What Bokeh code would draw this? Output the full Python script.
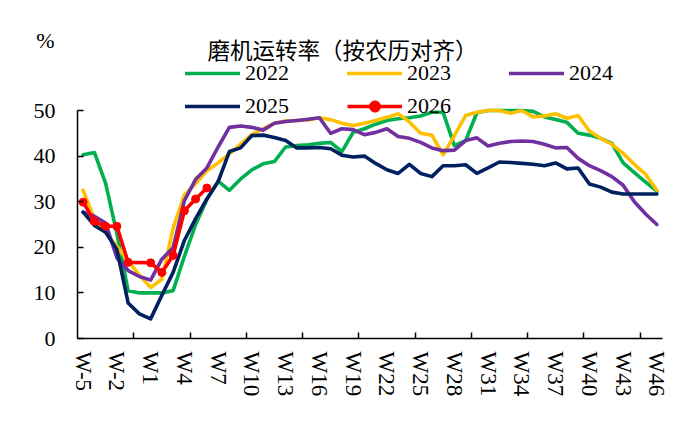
from bokeh.plotting import figure
from bokeh.models import FixedTicker, Range1d, Legend, LegendItem, Label
from bokeh.embed import file_html
from bokeh.resources import INLINE

weeks = ["W-5", "W-4", "W-3", "W-2", "W-1", "W0"] + [f"W{i}" for i in range(1, 47)]
tick_weeks = weeks[::3]

y_2022 = [40.3, 40.8, 34, 23, 10.5, 10, 10, 10, 10.5, 18, 25, 30.5, 34.5, 32.5, 35, 37, 38.3, 38.8,
          42, 42.3, 42.5, 42.8, 43, 41, 45.2, 46, 47, 47.8, 48.2, 48.4, 48.8, 49.6, 49.6, 42.3, 43.4,
          49.5, 50, 50, 50, 50, 49.8, 48.6, 48, 47.4, 45, 44.6, 43.9, 42.8, 38.5, 36.4, 34.3, 32.3]
y_2023 = [32.5, 26.2, 23.2, 20.2, 17, 13.9, 11.2, 13, 24.2, 31.5, 34, 36.8, 38.5, 40.5, 42.6, 44.7,
          46, 47.2, 47.7, 47.8, 47.9, 48.4, 48, 47.2, 46.7, 47.2, 47.8, 48.5, 49.3, 47.5, 45, 44.6,
          40.3, 44.5, 48.9, 49.6, 50, 50, 49.4, 50, 48.6, 48.8, 49.3, 48.3, 48.9, 45.5, 43.9,
          42.6, 40.6, 38.2, 36, 32.5]
y_2024 = [27.7, 26.8, 25.3, 17.7, 14.9, 13.6, 12.8, 17.4, 19.9, 30.2, 34.9, 37.4, 42, 46.3, 46.6,
          46.3, 45.7, 47.2, 47.6, 47.8, 48.1, 48.4, 45, 46, 45.8, 44.7, 45.2, 46, 44.3, 43.9, 43,
          41.8, 41.2, 41.3, 43.4, 44, 42.2, 42.8, 43.2, 43.3, 43.2, 42.6, 41.8, 41.9, 39.5, 37.9,
          36.8, 35.5, 33.6, 30, 27.3, 25]
y_2025 = [27.7, 24.8, 23.3, 19.5, 7.8, 5.4, 4.3, 9.5, 14.5, 21.5, 26.3, 30.6, 34.4, 41, 41.8, 44.5,
          44.6, 44.1, 43.4, 41.8, 41.8, 41.9, 41.6, 40.2, 39.8, 40, 38.4, 37, 36.2, 38.2, 36.2, 35.5,
          37.9, 37.9, 38.1, 36.2, 37.4, 38.7, 38.6, 38.4, 38.2, 37.9, 38.5, 37.2, 37.4, 33.9, 33.2,
          32.1, 31.7, 31.7, 31.7, 31.7]
weeks_2026 = ["W-5", "W-4", "W-3", "W-2", "W-1", "W1", "W2", "W3", "W4", "W5", "W6"]
y_2026 = [29.9, 25.7, 24.6, 24.6, 16.7, 16.6, 14.5, 18.2, 28, 30.6, 33]
y_ticks = [0, 10, 20, 30, 40, 50]

series = [("2022", y_2022, "#00B050"), ("2023", y_2023, "#FFC000"),
          ("2024", y_2024, "#7030A0"), ("2025", y_2025, "#002060")]

idx = {w: i for i, w in enumerate(weeks)}
xs = list(range(len(weeks)))
n = len(weeks)

W, H = 673, 405
# plot area placement in pixels (axes drawn inside a full-canvas frame)
left_px, right_px, top_px, bottom_px = 77, 662, 110, 338
xscale = (right_px - left_px) / n
yscale = (bottom_px - top_px) / 50
x0 = -0.5 - left_px / xscale
x1 = n - 0.5 + (W - right_px) / xscale
y0 = -(H - bottom_px) / yscale
y1 = bottom_px / yscale

p = figure(width=W, height=H, output_backend="svg", toolbar_location=None,
           x_range=Range1d(x0, x1), y_range=Range1d(y0, y1),
           min_border_left=0, min_border_right=0, min_border_top=0, min_border_bottom=0)
p.outline_line_color = None
p.grid.visible = False
p.background_fill_color = "white"
p.border_fill_color = "white"

renderers = {}
for name, ys, col in series:
    r = p.line(xs, ys, line_color=col, line_width=3.6, line_join="round", line_cap="round")
    renderers[name] = [r]

x26 = [idx[w] for w in weeks_2026]
r26l = p.line(x26, y_2026, line_color="#FF0000", line_width=3.6, line_join="round")
r26s = p.scatter(x26, y_2026, size=8, color="#FF0000")
renderers["2026"] = [r26l, r26s]

serif = "Liberation Serif"
xa = p.xaxis[0]
xa.fixed_location = 0
xa.bounds = (-0.5, n - 0.5)
xa.ticker = FixedTicker(ticks=[idx[w] for w in tick_weeks],
                        minor_ticks=[4.5 + 5 * k for k in range(10)])
xa.major_label_overrides = {idx[w]: w for w in tick_weeks}
xa.major_label_orientation = "vertical"
xa.major_tick_in = 0
xa.major_tick_out = 0
xa.minor_tick_in = 6
xa.minor_tick_out = 0
xa.minor_tick_line_color = "black"
xa.minor_tick_line_width = 1.5
xa.axis_line_width = 1.5
xa.axis_line_color = "black"
xa.major_label_text_font = serif
xa.major_label_text_font_size = "23px"
xa.major_label_text_color = "black"
xa.major_label_standoff = 13

ya = p.yaxis[0]
ya.fixed_location = -0.5
ya.ticker = FixedTicker(ticks=y_ticks)
ya.bounds = (0, 50)
ya.major_tick_in = 6
ya.major_tick_out = 0
ya.minor_tick_line_color = None
ya.major_tick_line_width = 1.5
ya.axis_line_width = 1.5
ya.axis_line_color = "black"
ya.major_tick_line_color = "black"
ya.major_label_text_font = serif
ya.major_label_text_font_size = "22px"
ya.major_label_text_color = "black"
ya.major_label_standoff = 22

order = ["2022", "2025", "2023", "2026", "2024"]
legend = Legend(items=[LegendItem(label=k, renderers=renderers[k]) for k in order],
                ncols=3, location=(185, 285), glyph_width=55, glyph_height=28, label_height=28,
                label_width=97, label_standoff=5, spacing=5, padding=0, margin=0,
                border_line_color=None, background_fill_alpha=0,
                label_text_font=serif, label_text_font_size="22px", label_text_color="black")
p.add_layout(legend, "center")

p.add_layout(Label(x=342, y=357, x_units="screen", y_units="screen", text="磨机运转率（按农历对齐）",
                   text_font="Noto Sans CJK SC", text_font_size="22.5px", text_align="center",
                   text_baseline="middle", text_color="black"))
p.add_layout(Label(x=45, y=365, x_units="screen", y_units="screen", text="%",
                   text_font=serif, text_font_size="22px", text_align="center",
                   text_baseline="middle", text_color="black"))

open("out.html", "w").write(file_html(p, INLINE))
